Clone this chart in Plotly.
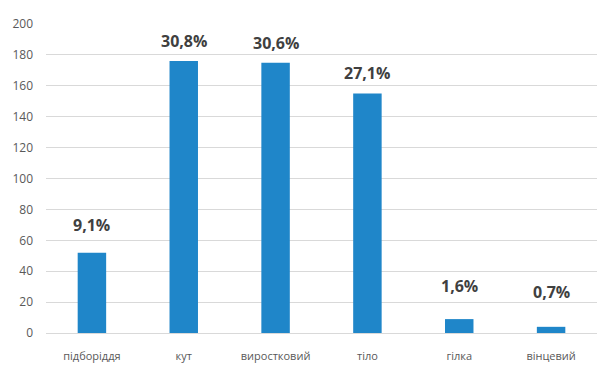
import plotly.graph_objects as go

categories = ["підборіддя", "кут", "виростковий", "тіло", "гілка", "вінцевий"]
values = [52, 176, 175, 155, 9, 4]
percent_labels = ["9,1%", "30,8%", "30,6%", "27,1%", "1,6%", "0,7%"]
y_ticks = [0, 20, 40, 60, 80, 100, 120, 140, 160, 180, 200]

# style: pixel offset of each percent label above its bar top
label_offsets_px = [28, 20, 20, 21, 33, 35]

bar_color = "#1F86C9"
font_family = "Open Sans, Liberation Sans, Arial, sans-serif"

fig = go.Figure()
fig.add_trace(go.Bar(
    x=categories, y=values,
    marker=dict(color=bar_color, line=dict(width=0)),
    width=0.31,
    hoverinfo="skip",
))

for cat, val, lab, off in zip(categories, values, percent_labels, label_offsets_px):
    fig.add_annotation(
        x=cat, y=val, text="<b>" + lab + "</b>",
        showarrow=False, yshift=off, yanchor="middle",
        font=dict(family=font_family, size=16, color="#404040"),
    )

fig.update_layout(
    width=610, height=369,
    margin=dict(l=46, r=13, t=24, b=36),
    paper_bgcolor="white", plot_bgcolor="white",
    showlegend=False,
    font=dict(family=font_family, color="#595959"),
)
fig.update_xaxes(
    showgrid=False, showline=False, zeroline=False,
    tickfont=dict(size=11, color="#595959"),
    ticklabelstandoff=15,
    automargin=False,
)
fig.update_yaxes(
    range=[0, 200], tickvals=y_ticks,
    showgrid=True, gridcolor="#D9D9D9", gridwidth=1,
    zeroline=True, zerolinecolor="#D9D9D9", zerolinewidth=1,
    showline=False,
    tickfont=dict(size=12, color="#595959"),
    ticklabelstandoff=12,
    automargin=False,
)

fig.write_html("out.html")
